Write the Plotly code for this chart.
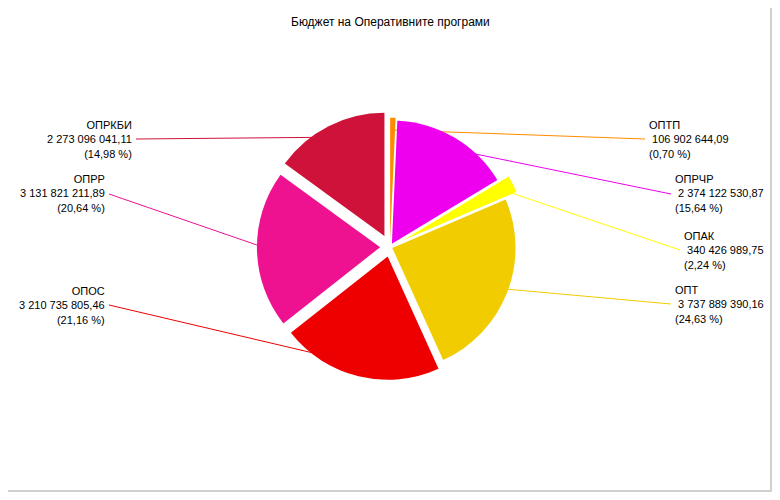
import math
import plotly.graph_objects as go

# ---- data (clockwise from 12 o'clock) ----
programs = ["ОПТП", "ОПРЧР", "ОПАК", "ОПТ", "ОПОС", "ОПРР", "ОПРКБИ"]
budgets = [106902644.09, 2374122530.87, 340426989.75, 3737889390.16,
           3210735805.46, 3131821211.89, 2273096041.11]
title_text = "Бюджет на Оперативните програми"

# ---- style ----
colors = ["#FF8C00", "#EE00EE", "#FFFF00", "#F0CC00", "#EE0000", "#EE1290", "#CF123A"]
pulls = [0.05, 0.03, 0.12, 0.02, 0.08, 0.08, 0.10]
OFF = 8                    # page body margin
W, H = 780 - 2 * OFF, 500 - 2 * OFF
CX, CY = 390, 247          # pie centre, screen pixels (y down)
HALF = 138.0               # half size of the pie domain, pixels
# label anchor (text side) positions in screen pixels and alignment
label_pos = {
    "ОПТП":   (647, 139, "left"),
    "ОПРЧР":  (673, 194, "left"),
    "ОПАК":   (682, 250, "left"),
    "ОПТ":    (673, 304, "left"),
    "ОПОС":   (107, 305, "right"),
    "ОПРР":   (107, 194, "right"),
    "ОПРКБИ": (134, 139, "right"),
}

FONT = "Liberation Sans, Arial, sans-serif"


def px(x):
    return (x - OFF) / W


def py(y):
    return 1 - (y - OFF) / H


def fmt_num(v):
    s = f"{v:,.2f}"
    ip, dp = s.split(".")
    return ip.replace(",", "\u00a0") + "," + dp


total = sum(budgets)
maxpull = max(pulls)
R = HALF / (1 + maxpull)

fig = go.Figure(go.Pie(
    labels=programs,
    values=budgets,
    sort=False,
    direction="clockwise",
    rotation=0,
    pull=pulls,
    marker=dict(colors=colors, line=dict(width=0)),
    textinfo="none",
    hoverinfo="label+value+percent",
    showlegend=False,
    domain=dict(x=[px(CX - HALF), px(CX + HALF)],
                y=[py(CY + HALF), py(CY - HALF)]),
))

shapes = []
annotations = []
cum = 0.0
for name, val, col, p in zip(programs, budgets, colors, pulls):
    frac = val / total
    mid = (cum + frac / 2) * 2 * math.pi
    cum += frac
    pcx = CX + p * R * math.sin(mid)
    pcy = CY - p * R * math.cos(mid)
    ex = pcx + 0.9 * R * math.sin(mid)
    ey = pcy - 0.9 * R * math.cos(mid)
    tx, ty, al = label_pos[name]
    lx = tx + (2 if al == "right" else -2)
    shapes.append(dict(type="line", xref="paper", yref="paper", layer="below",
                       x0=px(lx), y0=py(ty), x1=px(ex), y1=py(ey),
                       line=dict(color=col, width=1)))
    pct = f"{frac * 100:.2f}".replace(".", ",")
    lead = "\u00a0" if al == "left" else ""
    txt = f"{name}<br>{lead}{fmt_num(val)}<br>({pct}\u00a0%)"
    annotations.append(dict(
        x=px(tx), y=py(ty), xref="paper", yref="paper",
        xanchor=al, yanchor="middle", align=al,
        text=txt, showarrow=False,
        font=dict(family=FONT, size=11, color="#000000"),
    ))

# light frame on right and bottom edges of the figure
shapes.append(dict(type="line", xref="paper", yref="paper",
                   x0=1, y0=0, x1=1, y1=1,
                   line=dict(color="#D0D0D0", width=4)))
shapes.append(dict(type="line", xref="paper", yref="paper",
                   x0=0, y0=0, x1=1, y1=0,
                   line=dict(color="#D0D0D0", width=4)))

annotations.append(dict(
    x=px(390), y=py(22), xref="paper", yref="paper",
    xanchor="center", yanchor="middle", text=title_text, showarrow=False,
    font=dict(family=FONT, size=12, color="#000000"),
))

fig.update_layout(
    width=W, height=H,
    margin=dict(l=0, r=0, t=0, b=0),
    paper_bgcolor="white",
    plot_bgcolor="white",
    shapes=shapes,
    annotations=annotations,
)

fig.write_html("out.html")
